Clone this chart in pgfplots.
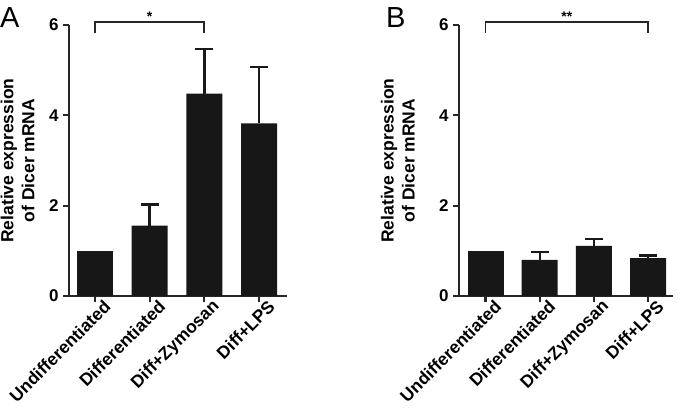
\documentclass[border=0pt]{standalone}
\usepackage{pgfplots}
\pgfplotsset{compat=1.18}
\usepackage{fontspec}
\setmainfont{Liberation Sans}
\definecolor{barfill}{gray}{0.09}
\tikzset{ylab/.style={font=\fontsize{17.5}{21}\selectfont\bfseries, align=center, at={(axis description cs:#1,0.5)}, anchor=south, rotate=90}}
\pgfplotsset{
  dicer/.style={
    scale only axis, height=271pt,
    ymin=0, ymax=6, ytick={0,2,4,6},
    xtick={0,1,2,3},
    xticklabels={Undifferentiated,Differentiated,Diff+Zymosan,Diff+LPS},
    axis lines=left,
    axis line style={-, line width=2.3pt, black!85},
    tick style={line width=2.2pt, black!85},
    major tick length=6pt,
    tick align=outside,
    clip=false,
    /pgf/number format/assume math mode=true,
    yticklabel style={font=\fontsize{17}{19}\selectfont\bfseries, xshift=-1pt},
    xticklabel style={font=\fontsize{17.5}{19}\selectfont\bfseries, rotate=45, anchor=east, xshift=11pt, yshift=-10pt},
    ybar, bar width=36pt, bar shift=0pt,
  },
  bars/.style={fill=barfill, draw=none,
    error bars/y dir=plus, error bars/y explicit,
    error bars/error bar style={line width=2.4pt, black!90},
    error bars/error mark options={line width=2.4pt, black!90, mark size=9pt, rotate=90}},
}
\begin{document}
\begin{tikzpicture}
\useasboundingbox (0pt,0pt) rectangle (678pt,413pt);
% Panel A
\begin{axis}[dicer, at={(69pt,117pt)}, anchor=south west, width=218pt,
  xmin=-0.475, xmax=3.51,
  ylabel={Relative expression\\of Dicer mRNA},
  every axis y label/.style={ylab=-0.142}]
\addplot[fill=barfill, draw=none] coordinates {(0,1.0)};
\addplot[bars] coordinates {(1,1.56) +- (0,0.47) (2,4.48) +- (0,0.99) (3,3.82) +- (0,1.25)};
\draw[line width=1.8pt, black!85] (axis cs:0,5.83) -- (axis cs:0,6.06) -- (axis cs:2,6.06) -- (axis cs:2,5.83);
\node[font=\fontsize{14}{14}\selectfont\bfseries] at (axis cs:1,6.19) {*};
\end{axis}
\node[font=\fontsize{29}{30}\selectfont, anchor=north west, inner sep=0pt] at (0pt,406pt) {A};
% Panel B
\begin{axis}[dicer, at={(459pt,117pt)}, anchor=south west, width=214pt,
  xmin=-0.49, xmax=3.46,
  ylabel={Relative expression\\of Dicer mRNA},
  every axis y label/.style={ylab=-0.19}]
\addplot[fill=barfill, draw=none] coordinates {(0,1.0)};
\addplot[bars] coordinates {(1,0.80) +- (0,0.17) (2,1.11) +- (0,0.15) (3,0.84) +- (0,0.06)};
\draw[line width=1.8pt, black!85] (axis cs:0,5.83) -- (axis cs:0,6.06) -- (axis cs:3,6.06) -- (axis cs:3,5.83);
\node[font=\fontsize{14}{14}\selectfont\bfseries] at (axis cs:1.5,6.19) {**};
\end{axis}
\node[font=\fontsize{29}{30}\selectfont, anchor=north west, inner sep=0pt] at (386pt,406pt) {B};
\end{tikzpicture}
\end{document}
